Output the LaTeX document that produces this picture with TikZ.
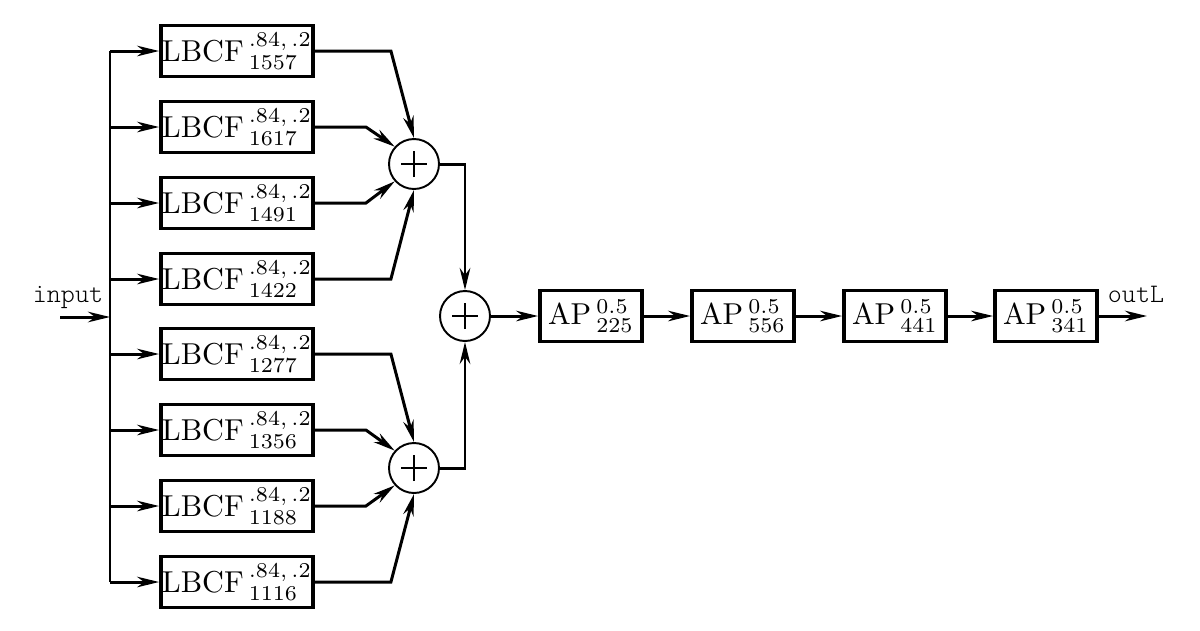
\documentclass[tikz,border=0pt]{standalone}
\usetikzlibrary{arrows.meta}
% block labels: ordinary 10pt math, enlarged as a whole
\newcommand\blocklabel[3]{\scalebox{1.72}{$\mathrm{#1}\,^{#2}_{#3}$}}
\begin{document}
\begin{tikzpicture}[x=0.02cm, y=-0.02cm,
  line cap=butt, line join=miter,
  tip/.style={-{Stealth[length=12.5pt, width=6pt, inset=4pt]}},
  wire/.style={line width=1.7pt},
  lbcf/.style={draw, line width=2.2pt, inner sep=0pt,
    minimum width=3.04cm, minimum height=1.02cm},
  apbox/.style={draw, line width=2.2pt, inner sep=0pt,
    minimum width=2.04cm, minimum height=1.02cm},
  adder/.style={draw, circle, line width=1.1pt, minimum size=1cm, inner sep=0pt,
    path picture={\draw[line width=0.9pt]
      ([xshift=-0.26cm]path picture bounding box.center) -- ([xshift=0.26cm]path picture bounding box.center)
      ([yshift=-0.26cm]path picture bounding box.center) -- ([yshift=0.26cm]path picture bounding box.center);}},
  lbl/.style={font=\fontsize{15.2}{18}\fontfamily{lmtt}\fontseries{l}\selectfont, anchor=base, inner sep=0pt}
]
\useasboundingbox (0,0) rectangle (1200,630);

% comb filter bank
\node[lbcf] (b1) at (237,51)  {\blocklabel{LBCF}{.84,\,.2}{1557}};
\node[lbcf] (b2) at (237,127) {\blocklabel{LBCF}{.84,\,.2}{1617}};
\node[lbcf] (b3) at (237,203) {\blocklabel{LBCF}{.84,\,.2}{1491}};
\node[lbcf] (b4) at (237,279) {\blocklabel{LBCF}{.84,\,.2}{1422}};
\node[lbcf] (b5) at (237,354) {\blocklabel{LBCF}{.84,\,.2}{1277}};
\node[lbcf] (b6) at (237,430) {\blocklabel{LBCF}{.84,\,.2}{1356}};
\node[lbcf] (b7) at (237,506) {\blocklabel{LBCF}{.84,\,.2}{1188}};
\node[lbcf] (b8) at (237,582) {\blocklabel{LBCF}{.84,\,.2}{1116}};

% adders
\node[adder] (s1) at (414,164) {};
\node[adder] (s2) at (414,468) {};
\node[adder] (s)  at (465,316) {};

% allpass chain
\node[apbox] (a1) at (591,316)  {\blocklabel{AP}{0.5}{225}};
\node[apbox] (a2) at (743,316)  {\blocklabel{AP}{0.5}{556}};
\node[apbox] (a3) at (895,316)  {\blocklabel{AP}{0.5}{441}};
\node[apbox] (a4) at (1046,316) {\blocklabel{AP}{0.5}{341}};

% input, bus and output
\coordinate (in)  at (60,317);
\coordinate (bin) at (110,317);
\coordinate (bt)  at (110,51);
\coordinate (bb)  at (110,582);
\coordinate (out) at (1147,316);
\node[lbl] (inl)  at (68,302)   {input};
\node[lbl] (outl) at (1136,302) {outL};

\draw[wire, tip] (in) -- (bin);
\draw[wire] (bt) -- (bb);
\foreach \b in {b1,b2,b3,b4,b5,b6,b7,b8}
  \draw[wire, tip] (bt |- \b.west) -- (\b.west);

% comb outputs into the adders
\draw[wire, tip] (b1.east) -- ++(76,0) -- (s1.north);
\draw[wire, tip] (b2.east) -- ++(51,0) -- (s1.138);
\draw[wire, tip] (b3.east) -- ++(51,0) -- (s1.222);
\draw[wire, tip] (b4.east) -- ++(76,0) -- (s1.south);
\draw[wire, tip] (b5.east) -- ++(76,0) -- (s2.north);
\draw[wire, tip] (b6.east) -- ++(51,0) -- (s2.138);
\draw[wire, tip] (b7.east) -- ++(51,0) -- (s2.222);
\draw[wire, tip] (b8.east) -- ++(76,0) -- (s2.south);

\draw[wire, tip] (s1.east) -| (s.north);
\draw[wire, tip] (s2.east) -| (s.south);

\draw[wire, tip] (s.east) -- (a1.west);
\draw[wire, tip] (a1.east) -- (a2.west);
\draw[wire, tip] (a2.east) -- (a3.west);
\draw[wire, tip] (a3.east) -- (a4.west);
\draw[wire, tip] (a4.east) -- (out);
\end{tikzpicture}
\end{document}
